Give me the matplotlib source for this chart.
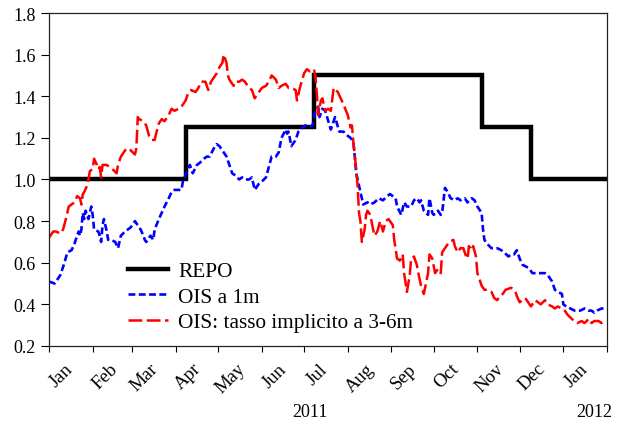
import numpy as np
import matplotlib
matplotlib.use("Agg")
import matplotlib.pyplot as plt
import matplotlib.dates as mdates
from matplotlib.ticker import NullFormatter

plt.rcParams['font.family'] = ['Liberation Serif', 'DejaVu Serif']

start = np.datetime64('2011-01-01')

# ECB main refinancing rate (step changes)
repo_dates = ['2011-01-01', '2011-04-08', '2011-07-08', '2011-11-04', '2011-12-09', '2012-01-31']
repo_vals = [1.0, 1.25, 1.5, 1.25, 1.0, 1.0]

# OIS 1 month (days since 1 Jan 2011, value)
ois1m_days = [0, 4, 8, 11, 13, 16, 18, 21, 22, 23, 24, 25, 26, 28, 30, 31, 32, 35, 36, 37,
              38, 39, 41, 42, 44, 47, 49, 50, 51, 54, 56, 58, 61, 63, 65, 67, 68, 69, 72, 74,
              75, 78, 80, 82, 85, 87, 89, 92, 94, 95, 98, 100, 102, 105, 107, 110, 112, 114, 117, 119,
              121, 124, 126, 128, 130, 132, 135, 137, 139, 142, 144, 146, 149, 151, 154, 156, 158, 161, 163, 165,
              168, 169, 170, 172, 175, 177, 180, 182, 184, 187, 188, 189, 191, 192, 194, 196, 200, 203, 206, 209,
              212, 214, 216, 217, 218, 220, 222, 223, 226, 228, 231, 234, 237, 240, 242, 246, 247, 250, 251, 252,
              254, 257, 259, 261, 263, 264, 266, 269, 270, 272, 273, 276, 278, 279, 281, 283, 285, 288, 290, 292,
              295, 297, 300, 302, 304, 307, 308, 309, 311, 314, 316, 318, 321, 323, 326, 328, 330, 332, 334, 336,
              339, 341, 343, 346, 349, 352, 354, 357, 359, 361, 364, 365, 367, 370, 373, 377, 380, 383, 385, 387,
              389, 392, 395]
ois1m_vals = [0.51, 0.50, 0.54, 0.60, 0.65, 0.66, 0.69, 0.75, 0.73, 0.76, 0.84, 0.81, 0.85, 0.81, 0.87, 0.83, 0.76, 0.75, 0.73, 0.70,
              0.78, 0.81, 0.75, 0.71, 0.71, 0.70, 0.67, 0.70, 0.73, 0.75, 0.76, 0.77, 0.80, 0.78, 0.76, 0.73, 0.71, 0.70, 0.73, 0.71,
              0.76, 0.81, 0.84, 0.87, 0.91, 0.94, 0.95, 0.95, 0.95, 0.99, 1.04, 1.07, 1.03, 1.07, 1.08, 1.10, 1.11, 1.11, 1.15, 1.17,
              1.16, 1.13, 1.11, 1.07, 1.03, 1.02, 1.00, 1.01, 1.00, 1.00, 1.01, 0.95, 0.98, 0.99, 1.01, 1.06, 1.11, 1.11, 1.13, 1.20,
              1.24, 1.22, 1.23, 1.16, 1.19, 1.23, 1.25, 1.26, 1.25, 1.26, 1.29, 1.33, 1.35, 1.30, 1.34, 1.33, 1.24, 1.30, 1.23, 1.23,
              1.21, 1.20, 1.18, 1.11, 1.03, 0.97, 0.91, 0.88, 0.89, 0.88, 0.89, 0.91, 0.90, 0.92, 0.93, 0.91, 0.87, 0.83, 0.86, 0.89,
              0.87, 0.87, 0.90, 0.91, 0.89, 0.90, 0.85, 0.83, 0.91, 0.84, 0.83, 0.85, 0.83, 0.84, 0.96, 0.94, 0.91, 0.90, 0.91, 0.90,
              0.91, 0.89, 0.91, 0.90, 0.87, 0.84, 0.76, 0.71, 0.69, 0.67, 0.67, 0.67, 0.66, 0.65, 0.63, 0.64, 0.64, 0.66, 0.62, 0.59,
              0.58, 0.57, 0.55, 0.55, 0.55, 0.55, 0.54, 0.51, 0.47, 0.46, 0.45, 0.40, 0.39, 0.38, 0.37, 0.37, 0.38, 0.37, 0.37, 0.36,
              0.37, 0.38, 0.38]

# OIS implied 3-6 month forward rate
ois36_days = [0, 3, 5, 8, 10, 12, 14, 16, 18, 20, 22, 23, 24, 25, 27, 28, 29, 31, 32, 34,
              35, 36, 37, 38, 41, 43, 45, 48, 49, 51, 54, 56, 58, 61, 62, 63, 64, 67, 69, 71,
              73, 75, 76, 78, 80, 82, 85, 87, 89, 92, 94, 97, 99, 101, 104, 106, 108, 111, 113, 115,
              117, 119, 121, 123, 124, 126, 127, 128, 131, 132, 135, 137, 139, 142, 144, 146, 149, 151, 154, 156,
              158, 161, 163, 165, 168, 170, 172, 175, 176, 178, 181, 183, 185, 188, 189, 190, 191, 193, 194, 196,
              198, 200, 202, 205, 207, 209, 212, 214, 215, 216, 218, 219, 220, 221, 222, 224, 225, 226, 228, 230,
              231, 233, 235, 237, 239, 241, 244, 245, 247, 249, 251, 252, 254, 256, 257, 259, 261, 263, 264, 266,
              269, 270, 272, 274, 276, 278, 279, 282, 284, 287, 288, 290, 292, 294, 296, 297, 298, 300, 301, 303,
              304, 307, 309, 311, 314, 316, 318, 320, 322, 324, 328, 331, 332, 334, 336, 338, 340, 342, 345, 347,
              349, 352, 354, 357, 359, 361, 364, 366, 368, 371, 373, 375, 378, 380, 383, 385, 387, 390, 392, 394]
ois36_vals = [0.72, 0.75, 0.75, 0.74, 0.76, 0.81, 0.87, 0.88, 0.89, 0.92, 0.91, 0.88, 0.93, 0.94, 0.97, 1.00, 1.04, 1.05, 1.10, 1.07,
              1.05, 1.06, 1.01, 1.07, 1.07, 1.06, 1.05, 1.03, 1.07, 1.11, 1.14, 1.15, 1.14, 1.12, 1.15, 1.30, 1.29, 1.28, 1.26, 1.21,
              1.19, 1.19, 1.22, 1.27, 1.29, 1.28, 1.31, 1.34, 1.33, 1.34, 1.35, 1.38, 1.42, 1.43, 1.42, 1.44, 1.47, 1.47, 1.43, 1.47,
              1.49, 1.51, 1.54, 1.56, 1.60, 1.56, 1.50, 1.48, 1.45, 1.47, 1.47, 1.48, 1.47, 1.44, 1.43, 1.39, 1.42, 1.44, 1.45, 1.47,
              1.50, 1.48, 1.44, 1.45, 1.46, 1.44, 1.44, 1.43, 1.38, 1.44, 1.51, 1.53, 1.52, 1.53, 1.50, 1.42, 1.31, 1.38, 1.39, 1.33,
              1.34, 1.33, 1.44, 1.42, 1.39, 1.36, 1.31, 1.25, 1.26, 1.18, 1.05, 0.97, 0.84, 0.80, 0.70, 0.76, 0.83, 0.85, 0.83, 0.76,
              0.73, 0.75, 0.80, 0.75, 0.80, 0.81, 0.78, 0.71, 0.62, 0.61, 0.64, 0.55, 0.46, 0.54, 0.62, 0.63, 0.59, 0.52, 0.49, 0.45,
              0.55, 0.64, 0.62, 0.55, 0.57, 0.55, 0.65, 0.68, 0.70, 0.71, 0.68, 0.65, 0.67, 0.67, 0.63, 0.62, 0.68, 0.66, 0.68, 0.63,
              0.55, 0.49, 0.47, 0.47, 0.46, 0.43, 0.42, 0.44, 0.45, 0.47, 0.48, 0.46, 0.44, 0.41, 0.42, 0.43, 0.41, 0.39, 0.42, 0.41,
              0.40, 0.42, 0.40, 0.39, 0.38, 0.39, 0.38, 0.37, 0.35, 0.33, 0.32, 0.31, 0.32, 0.31, 0.33, 0.31, 0.32, 0.32, 0.31, 0.32]

labels = ['REPO', 'OIS a 1m', 'OIS: tasso implicito a 3-6m']


def to_dates(days):
    return start + np.array(days, dtype='timedelta64[D]')


fig = plt.figure(figsize=(6.24, 4.27), dpi=100)
ax = fig.add_axes([0.0785, 0.1874, 0.8943, 0.7798])

ax.plot(np.array(repo_dates, dtype='datetime64[D]'), repo_vals, color='black', lw=3.2,
        drawstyle='steps-post', label=labels[0], solid_joinstyle='miter')
ax.plot(to_dates(ois1m_days), ois1m_vals, color='#0000ff', lw=1.9, dashes=(2.6, 1.3), label=labels[1])
ax.plot(to_dates(ois36_days), ois36_vals, color='#ff0000', lw=1.8, dashes=(5.5, 1.8), label=labels[2])

ax.set_ylim(0.2, 1.8)
ax.set_yticks(np.arange(0.2, 1.81, 0.2))
ax.yaxis.set_major_formatter(plt.FormatStrFormatter('%.1f'))
ax.set_xlim(np.datetime64('2011-01-01'), np.datetime64('2012-02-01'))

ax.xaxis.set_major_locator(mdates.MonthLocator())
ax.xaxis.set_major_formatter(NullFormatter())
ax.xaxis.set_minor_locator(mdates.MonthLocator(bymonthday=10))
ax.xaxis.set_minor_formatter(mdates.DateFormatter('%b'))

ax.tick_params(axis='both', which='major', direction='out', labelsize=13, color='black')
ax.tick_params(axis='y', length=6, width=0.8)
ax.tick_params(axis='x', which='major', length=4, width=0.8)
ax.tick_params(axis='x', which='minor', length=0, pad=10, labelsize=13.5, labelrotation=45)

for s in ax.spines.values():
    s.set_linewidth(0.9)
    s.set_color('#222222')

fig.text(0.497, 0.035, '2011', ha='center', va='center', fontsize=13)
fig.text(0.981, 0.035, '2012', ha='right', va='center', fontsize=13)

ax.legend(loc='center left', bbox_to_anchor=(0.1416, 0.148), frameon=False, fontsize=15.3,
          handlelength=1.9, handletextpad=0.45, labelspacing=0.27, borderpad=0, borderaxespad=0)

fig.savefig('out.png', dpi=100)
